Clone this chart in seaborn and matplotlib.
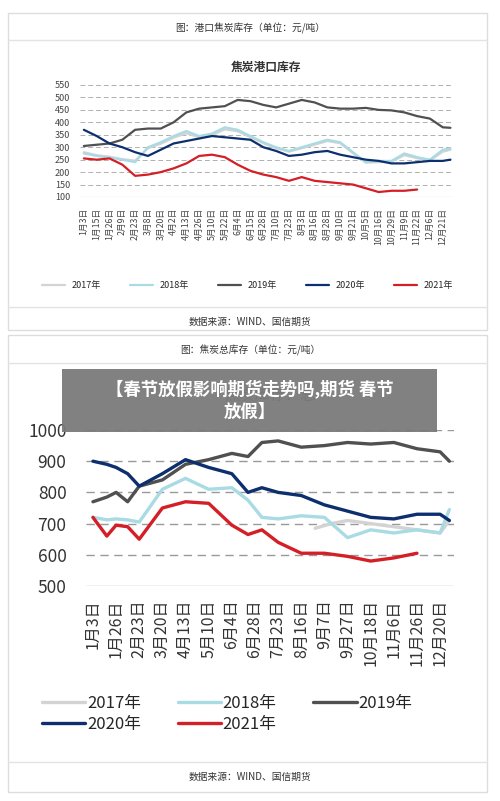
import numpy as np
import matplotlib.pyplot as plt
import seaborn as sns
from matplotlib.patches import Rectangle
from matplotlib.lines import Line2D

sns.set_theme(style="white")
plt.rcParams['font.family'] = ['Noto Sans CJK SC', 'DejaVu Sans']

# ---- 上图：焦炭港口库存 ----
top_ticks = ['1月3日', '1月15日', '1月26日', '2月9日', '2月23日', '3月8日', '3月20日', '4月2日',
             '4月13日', '4月26日', '5月10日', '5月22日', '6月4日', '6月15日', '6月28日', '7月10日',
             '7月23日', '8月3日', '8月16日', '8月28日', '9月10日', '9月21日', '10月5日', '10月16日',
             '10月29日', '11月9日', '11月22日', '12月6日', '12月21日']
top_x = list(range(29)) + [28.6]
top_2017 = [280, 268, 262, 252, 246, 296, 314, 338, 356, 340, 348, 372, 364, 340, 316, 296, 282, 296,
            310, 325, 316, 276, 238, 240, 242, 268, 256, 246, 282, 290]
top_2018 = [275, 265, 258, 250, 240, 300, 320, 345, 365, 345, 355, 380, 370, 345, 320, 300, 285, 300,
            315, 330, 320, 280, 240, 245, 245, 275, 260, 250, 290, 295]
top_2019 = [305, 310, 315, 330, 370, 375, 375, 400, 440, 455, 460, 465, 490, 485, 470, 460, 475, 490,
            480, 460, 455, 455, 458, 450, 448, 440, 425, 415, 380, 378]
top_2020 = [370, 345, 315, 300, 280, 265, 290, 315, 325, 335, 345, 340, 335, 330, 300, 285, 265, 270,
            280, 285, 270, 260, 250, 245, 235, 235, 240, 245, 245, 250]
top_2021 = [255, 250, 255, 230, 185, 190, 200, 215, 235, 265, 270, 260, 230, 205, 190, 180, 165, 180,
            165, 160, 155, 150, 135, 120, 125, 125, 130]

# ---- 下图：焦炭总库存 ----
bot_ticks = ['1月3日', '1月26日', '2月23日', '3月20日', '4月13日', '5月10日', '6月4日', '6月28日',
             '7月23日', '8月16日', '9月7日', '9月27日', '10月18日', '11月6日', '11月26日', '12月20日']
bot_x = [0, 0.6, 1, 1.5, 2, 3, 4, 5, 6, 6.7, 7.3, 8, 9, 10, 11, 12, 13, 14, 15, 15.4]
bot_2018 = [720, 712, 715, 712, 705, 810, 845, 810, 815, 775, 720, 715, 725, 720, 655, 680, 670, 680, 670, 745]
bot_2019 = [770, 785, 800, 770, 820, 840, 890, 905, 925, 915, 960, 965, 945, 950, 960, 955, 960, 940, 930, 900]
bot_2020 = [900, 890, 880, 860, 820, 860, 905, 880, 860, 800, 815, 800, 790, 760, 740, 720, 715, 730, 730, 710]
bot_2021 = [720, 660, 695, 690, 650, 750, 770, 765, 695, 665, 680, 640, 605, 605, 595, 580, 590, 605]
bot17_x = [9.6, 10.3, 11, 12, 13, 14, 15, 15.4]
bot_2017 = [685, 700, 710, 700, 690, 680, 670, 710]

years = ['2017年', '2018年', '2019年', '2020年', '2021年']
colors = ['#d3d3d3', '#a8dbe3', '#505050', '#0d2f6e', '#d41f26']

fig = plt.figure(figsize=(5, 8.01), dpi=100)
H = 801.0


def fy(y):
    return 1 - y / H


def panel(y0, y1, head, hy, d1, d2, sy):
    fig.patches.append(Rectangle((8 / 500, fy(y1)), 479 / 500, (y1 - y0) / H, transform=fig.transFigure,
                                 fill=False, edgecolor='#dddddd', lw=1))
    for d in (d1, d2):
        fig.add_artist(Line2D([8 / 500, 487 / 500], [fy(d), fy(d)], color='#e3e3e3', lw=1))
    fig.text(0.5, fy(hy), head, ha='center', va='center', fontsize=7, color='#333333')
    fig.text(0.5, fy(sy), '数据来源：WIND、国信期货', ha='center', va='center', fontsize=7, color='#333333')


panel(13, 330, '图：港口焦炭库存（单位：元/吨）', 28, 40, 307, 322)
panel(335, 792, '图：焦炭总库存（单位：元/吨）', 350, 363, 762, 777)

# top axes
ax1 = fig.add_axes([80 / 500, fy(197), 373 / 500, 112 / H])
for vals, c, lab in zip([top_2017, top_2018, top_2019, top_2020, top_2021], colors, years):
    sns.lineplot(x=top_x[:len(vals)], y=vals, ax=ax1, color=c, lw=1.6, label=lab)
ax1.set_ylim(100, 550)
ax1.set_yticks(range(100, 551, 50))
ax1.set_xlim(-0.3, 28.8)
ax1.set_xticks(range(29))
ax1.set_xticklabels(top_ticks, rotation=90, fontsize=6.3, color='#444444')
ax1.tick_params(axis='y', labelsize=6.5, colors='#444444', pad=1)
ax1.tick_params(axis='x', pad=2)
for v in range(150, 551, 50):
    ax1.axhline(v, color='#b0b0b0', lw=0.7, ls=(0, (5, 3)), zorder=0)
ax1.axhline(100, color='#b0b0b0', lw=0.8, zorder=0)
sns.despine(ax=ax1, left=True, bottom=True)
ax1.set_title('焦炭港口库存', fontsize=8.5, color='#333333', pad=10, fontweight='bold')
ax1.legend(loc='upper center', bbox_to_anchor=(0.45, -0.68), ncol=5, frameon=False, fontsize=6.5,
           handlelength=2.5, columnspacing=3.2)

# bottom axes
ax2 = fig.add_axes([86 / 500, fy(586), 368 / 500, 156 / H])
sns.lineplot(x=bot17_x, y=bot_2017, ax=ax2, color=colors[0], lw=2.4, label=years[0])
sns.lineplot(x=bot_x, y=bot_2018, ax=ax2, color=colors[1], lw=2.4, label=years[1])
sns.lineplot(x=bot_x, y=bot_2019, ax=ax2, color=colors[2], lw=2.4, label=years[2])
sns.lineplot(x=bot_x, y=bot_2020, ax=ax2, color=colors[3], lw=2.4, label=years[3])
sns.lineplot(x=bot_x[:len(bot_2021)], y=bot_2021, ax=ax2, color=colors[4], lw=2.4, label=years[4])
ax2.set_ylim(500, 1000)
ax2.set_yticks(range(500, 1001, 100))
ax2.set_xlim(-0.3, 15.6)
ax2.set_xticks(range(16))
ax2.set_xticklabels(bot_ticks, rotation=90, fontsize=11.5, color='#333333')
ax2.tick_params(axis='y', labelsize=12.5, colors='#333333', pad=8)
for v in range(600, 1001, 100):
    ax2.axhline(v, color='#999999', lw=1, ls=(0, (6, 4)), zorder=0)
ax2.axhline(500, color='#bbbbbb', lw=1, zorder=0)
sns.despine(ax=ax2, left=True, bottom=True)
ax2.set_title('焦炭库存：总', fontsize=11, color='#555555', pad=22)
# 图例按行排列：2017/2018/2019 一行，2020/2021 一行
h, l = ax2.get_legend_handles_labels()
order = [0, 3, 1, 4, 2]
ax2.legend([h[i] for i in order], [l[i] for i in order], loc='upper left', bbox_to_anchor=(-0.16, -0.6),
           ncol=3, frameon=False, fontsize=12, handlelength=2.6, columnspacing=2.2, handletextpad=0.1,
           labelspacing=0.25)

# banner
fig.patches.append(Rectangle((62 / 500, fy(432)), 375 / 500, 63 / H, transform=fig.transFigure,
                             facecolor='#7a7a7a', alpha=0.95, edgecolor='none', zorder=10))
fig.text(0.5, fy(400), '【春节放假影响期货走势吗,期货 春节\n放假】', ha='center', va='center', fontsize=12.5,
         color='white', fontweight='bold', zorder=11, linespacing=1.35)

fig.savefig('out.png', dpi=100, facecolor='white')
